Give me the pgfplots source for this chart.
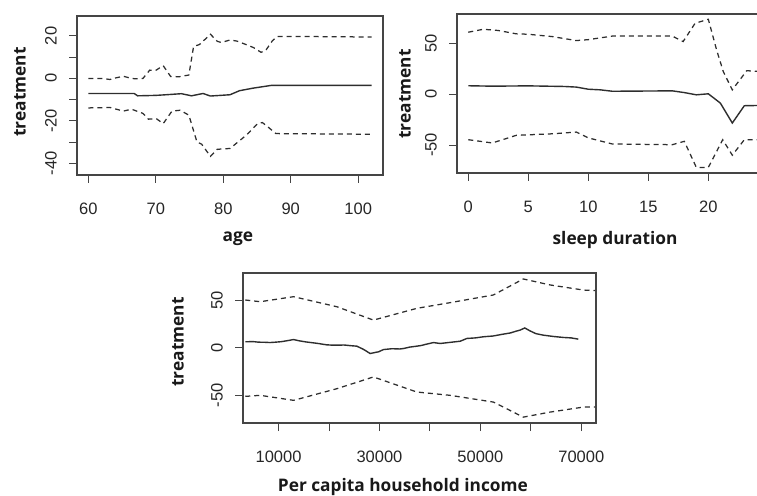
\documentclass[border=0pt]{standalone}
\usepackage{pgfplots}
\pgfplotsset{compat=1.18}
\usepackage{fontspec}
\setmainfont{Liberation Sans}
\newfontfamily\labfont{Open Sans}[UprightFont=* Bold]
\definecolor{ln}{HTML}{2E2E2E}
\definecolor{bx}{HTML}{454545}
\pgfplotsset{
  rstyle/.style={
    scale only axis, anchor=south west,
    axis line style={bx, line width=1.1pt},
    tick style={bx, line width=1pt},
    tick align=outside, major tick length=8pt,
    xtick pos=bottom, ytick pos=left,
    /pgf/number format/assume math mode=true,
    ticklabel style={font=\fontsize{16.5}{18}\selectfont, text=black!85},
    yticklabel style={rotate=90, anchor=south, inner sep=0pt},
    xticklabel style={anchor=north, inner sep=0pt},
    xticklabel shift=20pt, yticklabel shift=12pt,
    label style={font=\labfont\fontsize{17.3}{19}\selectfont, text=black!90, anchor=center},
    scaled ticks=false,
    clip=false,
  },
  mid/.style={ln, line width=1.4pt},
  band/.style={ln, line width=1.25pt, dash pattern=on 5pt off 4pt},
}
\begin{document}
\begin{tikzpicture}
\useasboundingbox (0,0) rectangle (757pt,495pt);
\clip (0,0) rectangle (757pt,495pt);
% --- age ---
\begin{axis}[rstyle, at={(77pt,320pt)}, width=306pt, height=159pt,
  xmin=58.32, xmax=103.68, ymin=-45.5, ymax=29.4,
  xtick={60,70,80,90,100},
  ytick={-40,-30,-20,-10,0,10,20}, yticklabels={-40,,-20,,0,,20},
  xlabel={age}, ylabel={treatment},
  xlabel style={at={(axis description cs:0.526,-0.4025)}},
  ylabel style={at={(axis description cs:-0.186,0.522)}},
]
\addplot[band] coordinates {(60,0) (62,0) (63.2,-0.5) (64,0.2) (65.2,1) (66.4,0) (67,-0.2) (68.1,0) (69.1,3.9) (70,3.8) (71.1,6) (72.2,0.9) (73.5,0.8) (74.9,1.6) (75.6,15) (76.5,16) (78.1,20.8) (79.1,17.5) (79.7,16.9) (81,18.1) (82,17.6) (83.5,15.8) (84.5,14.5) (85.6,12.3) (86.3,13.2) (87.3,17.8) (88,19.7) (89,19.8) (102,19.5)};
\addplot[mid] coordinates {(60,-7.1) (66.8,-7.1) (67.3,-8.2) (70,-8) (71.5,-7.7) (73.8,-7.2) (75.3,-8.2) (77,-7.1) (78.1,-8.3) (81,-7.7) (82.4,-5.8) (84.4,-4.6) (87.1,-3.3) (102,-3.3)};
\addplot[band] coordinates {(60,-13.9) (63.2,-13.7) (65.2,-15.4) (66.4,-14.5) (68.1,-16.5) (68.9,-19.2) (70.1,-19) (71.1,-21.3) (72.4,-15.4) (73.6,-15) (74.9,-17.3) (76.1,-29.9) (76.8,-31) (78.1,-36.7) (79.1,-33.4) (81,-33) (83.4,-26.8) (85.1,-21.3) (85.8,-20.8) (86.6,-22.8) (87.8,-26) (102,-26.3)};
\end{axis}
% --- sleep duration ---
\begin{axis}[rstyle, at={(457pt,322pt)}, width=304.6pt, height=159pt,
  xmin=-0.94, xmax=24.44, ymin=-77.5, ymax=78.7,
  xtick={0,5,10,15,20}, ytick={-50,0,50},
  xlabel={sleep duration}, ylabel={treatment},
  xlabel style={at={(axis description cs:0.519,-0.421)}},
  ylabel style={at={(axis description cs:-0.171,0.497)}},
]
\addplot[band] coordinates {(0,60.8) (1.25,63.7) (2.5,62.5) (4,59.2) (5,58.8) (7,56.5) (9,52.6) (10,53.5) (12,57) (17,57) (17.9,51.6) (18.9,69.6) (20,73.5) (20.7,43) (21.25,22) (22,4.2) (23.2,23) (24.5,22)};
\addplot[mid] coordinates {(0,8.2) (2,7.8) (5,8.1) (8,7.5) (9,6.9) (10,4.8) (11,4.2) (12,2.8) (17,3.2) (18,1.5) (19,-0.7) (20,0.3) (21,-8.8) (22,-28.4) (23,-11.4) (24.5,-11.1)};
\addplot[band] coordinates {(0,-44.8) (2,-48) (4,-40.5) (7,-39) (9,-37.3) (10,-43) (12,-49) (17,-49.7) (18,-46.4) (19,-72) (20,-72) (21.2,-44.8) (22,-60) (23,-44.8) (24.5,-44.8)};
\end{axis}
% --- income ---
\begin{axis}[rstyle, at={(243pt,72pt)}, width=353pt, height=150pt,
  xmin=2950, xmax=72910, ymin=-79.3, ymax=79,
  xtick={10000,20000,30000,40000,50000,60000,70000},
  xticklabels={10000,,30000,,50000,,70000},
  ytick={-50,0,50},
  xlabel={Per capita household income}, ylabel={treatment},
  xlabel style={at={(axis description cs:0.453,-0.425)}},
  ylabel style={at={(axis description cs:-0.184,0.54)}},
]
\addplot[band] coordinates {(3400,50.5) (6370,48.7) (12970,54) (21550,43.4) (28800,29.3) (37400,41.7) (44000,47.7) (52570,55.8) (58500,72.7) (63800,66.4) (70400,61) (72700,60.5)};
\addplot[mid] coordinates {(3400,6.4) (5000,6.6) (6000,6) (7200,5.9) (8300,5.6) (9400,6) (10500,6.5) (12000,7.8) (12970,8.8) (14000,7.5) (15500,6.2) (17000,5.2) (18000,4.5) (19500,3.2) (20900,2.8) (23000,3) (24500,2.2) (25500,1.8) (26800,-1.5) (27500,-3.8) (28150,-6) (29000,-5) (29800,-4.2) (30800,-1.8) (32500,-0.9) (34000,-1.2) (34750,-0.7) (36000,0.8) (37400,1.8) (38300,2.5) (39000,3.5) (40700,5.6) (42000,4.6) (43000,5.2) (44000,5.8) (46000,7) (47300,9.9) (49000,10.5) (50600,11.7) (52500,12.5) (54550,14.5) (56000,15.8) (57000,17.5) (57850,18.7) (58800,21) (59300,19.5) (59800,18) (61000,15) (62470,13.4) (64500,12) (66400,11) (68000,10.5) (69400,9.2)};
\addplot[band] coordinates {(3400,-51.2) (6370,-50.1) (12970,-55.4) (21550,-43.1) (28800,-30.7) (37400,-46.6) (44000,-50.1) (52570,-57.2) (58500,-73.1) (63800,-67.8) (70400,-62.5) (72700,-62.5)};
\end{axis}
\end{tikzpicture}
\end{document}
